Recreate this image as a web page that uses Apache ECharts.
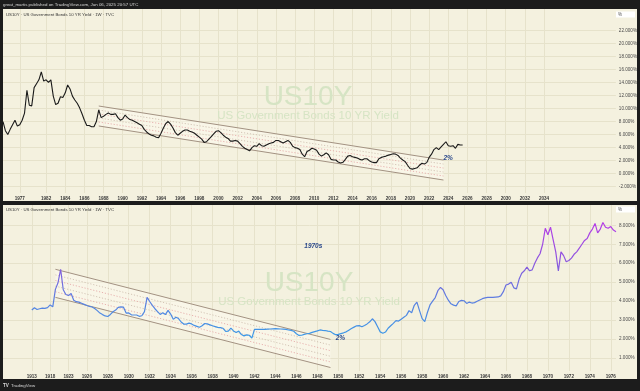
<!DOCTYPE html>
<html><head><meta charset="utf-8">
<script src="https://cdn.jsdelivr.net/npm/echarts@6/dist/echarts.min.js"></script>
<style>html,body{margin:0;padding:0;background:#1c1c1c;} #c{width:640px;height:391px;}</style>
</head><body><div id="c"></div>
<script>
// ---------- DATA ----------
// Top pane: weekly-style samples (one per category slot), US10Y yield %
const topValues = [8.0,6.6,6.0,6.8,7.5,8.2,7.3,7.5,8.2,9.3,
12.8,10.5,10.4,13.2,13.8,14.4,15.6,14.2,14.4,14.0,
14.4,11.9,10.6,10.8,11.8,11.7,12.4,13.6,13.0,11.9,
11.3,10.8,10.1,9.2,8.2,7.4,7.4,7.2,7.2,8.0,
9.8,8.6,8.8,9.1,9.3,9.1,9.1,9.2,8.6,8.2,
8.4,9.0,8.6,8.3,8.2,8.0,7.8,7.6,7.4,6.8,
6.4,6.1,5.9,5.8,5.6,5.5,6.2,7.0,7.7,8.0,
7.6,7.0,6.3,5.9,6.2,6.5,6.7,6.7,6.5,6.4,
6.2,5.9,5.6,5.3,4.8,4.9,5.3,5.7,6.1,6.5,
6.6,6.3,5.9,5.6,5.4,5.0,5.0,5.1,5.0,4.6,
4.2,3.9,3.7,3.5,4.0,4.3,4.2,4.6,4.3,4.2,
4.4,4.6,4.7,4.8,5.1,5.1,4.9,4.7,4.9,5.1,
4.8,4.2,4.0,3.9,3.7,3.0,2.6,3.4,3.6,3.9,
3.8,3.6,3.0,2.7,2.9,3.2,2.9,2.2,2.1,2.1,
1.8,1.65,1.75,2.2,2.7,2.8,2.6,2.5,2.4,2.2,
2.1,2.3,2.3,2.0,1.8,1.7,1.7,2.3,2.5,2.6,
2.7,2.85,2.95,3.05,3.0,2.8,2.4,2.1,1.85,1.3,
0.8,0.7,0.8,0.9,1.3,1.6,1.5,1.7,2.5,3.0,
3.7,4.0,3.7,4.1,4.5,4.9,4.3,4.2,4.3,3.9,
4.5,4.4,4.4];
const topSlotCount = 257;
const topTickLabels = ['1977','1982','1984','1986','1988','1990','1992','1994','1996','1998','2000','2002','2004','2006','2008','2010','2012','2014','2016','2018','2020','2022','2024','2026','2028','2030','2032','2034'];
const topTickSlots = [7,18,26,34,42,50,58,66,74,82,90,98,106,114,122,130,138,146,154,162,170,178,186,194,202,210,218,226];
const topYTicks = [-2,0,2,4,6,8,10,12,14,16,18,20,22];
const topYRange = [-2.96, 25.26];
// Top channel: [startSlot, upperStart, endSlot, upperEnd, width]
const topChannel = [40, 10.38, 184, 2.09, 3.06];

// Bottom pane: long-history samples, first sample at slot 11
const bottomFirstSlot = 11;
const bottomValues = [3.53,3.65,3.56,3.6,3.63,3.62,3.66,3.8,3.7,4.62,
4.97,5.68,4.6,4.35,4.3,4.4,4.05,3.97,3.95,3.89,
3.83,3.77,3.72,3.69,3.61,3.5,3.37,3.29,3.22,3.19,
3.3,3.44,3.53,3.67,3.7,3.68,3.37,3.38,3.28,3.27,
3.27,3.2,3.23,3.45,4.2,3.98,3.78,3.6,3.45,3.3,
3.39,3.29,3.51,3.32,3.04,3.15,3.08,2.9,2.79,2.79,
2.84,2.8,2.72,2.67,2.62,2.7,2.82,2.8,2.75,2.7,
2.66,2.62,2.6,2.57,2.4,2.42,2.58,2.43,2.35,2.42,
2.24,2.17,2.22,2.2,2.05,2.51,2.51,2.51,2.51,2.51,
2.52,2.53,2.54,2.55,2.54,2.53,2.52,2.51,2.48,2.46,
2.41,2.28,2.19,2.2,2.25,2.28,2.3,2.35,2.39,2.43,
2.48,2.46,2.45,2.42,2.4,2.3,2.23,2.25,2.29,2.33,
2.38,2.47,2.56,2.63,2.7,2.71,2.65,2.72,2.8,2.91,
3.07,2.92,2.65,2.38,2.31,2.37,2.57,2.7,2.83,2.97,
2.95,3.05,3.15,3.25,3.5,3.39,3.78,3.95,3.5,3.08,
2.92,3.4,3.8,4.0,4.19,4.55,4.72,4.6,4.3,4.05,
3.86,3.79,3.75,3.98,4.04,4.02,3.88,3.95,3.9,3.92,
3.99,4.06,4.13,4.17,4.2,4.2,4.2,4.21,4.22,4.28,
4.5,4.85,4.9,5.0,4.7,4.65,5.15,5.47,5.6,5.8,
5.6,5.65,6.0,6.28,6.5,7.0,7.84,7.5,7.9,7.25,
6.6,5.6,6.6,6.4,6.08,6.14,6.27,6.47,6.6,6.8,
7.0,7.2,7.3,7.6,7.8,8.1,7.6,7.8,8.15,7.9,
7.84,7.93,7.75,7.66];
const bottomSlotCount = 235;
const bottomTickLabels = ['1913','1918','1923','1926','1928','1930','1932','1934','1936','1938','1940','1942','1944','1946','1948','1950','1952','1954','1956','1958','1960','1962','1964','1966','1968','1970','1972','1974','1976'];
const bottomTickSlots = [11,18,25,32,40,48,56,64,72,80,88,96,104,112,120,128,136,144,152,160,168,176,184,192,200,208,216,224,232];
const bottomYTicks = [1,2,3,4,5,6,7,8];
const bottomYRange = [0.316, 9.07];
const bottomChannel = [20, 5.68, 125, 1.98, 1.48];

// Annotations: [slot, value]
const topNotes = [[184, 2.36]];
const topNoteTexts = ['2%'];
const bottomNotes = [[127, 2.04], [115, 6.89]];
const bottomNoteTexts = ['2%', '1970s'];

// ---------- CHART ----------
const cream = '#f4f1df';
const gridCol = '#e6e2cb';
const frame = '#1c1c1c';
const FONT = 'Liberation Sans, Arial, sans-serif';

function cats(n){ const a=[]; for(let i=0;i<n;i++) a.push(String(i)); return a; }
function tickMap(slots, labels){ const m={}; slots.forEach((s,k)=>m[s]=labels[k]); return m; }
const topMap = tickMap(topTickSlots, topTickLabels);
const botMap = tickMap(bottomTickSlots, bottomTickLabels);
const bottomSeriesData = [];
for (let i=0;i<bottomFirstSlot;i++) bottomSeriesData.push(null);
bottomValues.forEach(v=>bottomSeriesData.push(v));

function xAxisFor(gridIndex, n, map){
  return {
    type:'category', gridIndex, data:cats(n), boundaryGap:false,
    axisLine:{show:false}, axisTick:{show:false},
    axisLabel:{ interval:(i)=>map[i]!==undefined, formatter:(v,i)=>map[i]||'',
      fontSize:4.6, fontWeight:'bold', color:'#3a3a3a', margin:3, fontFamily:FONT },
    splitLine:{ show:true, interval:(i)=>map[i]!==undefined, lineStyle:{color:gridCol, width:1} }
  };
}
function yAxisFor(gridIndex, range, ticks){
  return {
    type:'value', gridIndex, position:'right', min:range[0], max:range[1],
    axisLine:{show:false},
    axisTick:{show:false, customValues:ticks},
    axisLabel:{ customValues:ticks, formatter:(v)=>v.toFixed(3)+'%', fontSize:4.6,
      color:'#4a4a4a', margin:3, align:'left', fontFamily:FONT },
    splitLine:{ show:true, lineStyle:{color:gridCol, width:1} }
  };
}
const levels = [0.2, 0.4, 0.6, 0.8];
const levelColors = ['#c9b7a8', '#e2a0a0', '#c9b7a8', '#e2a0a0'];
function channelRender(params, api){
  const i0=api.value(0), u0=api.value(1), i1=api.value(2), u1=api.value(3), w=api.value(4);
  const a=api.coord([i0,u0]), b=api.coord([i1,u1]), c=api.coord([i1,u1-w]), d=api.coord([i0,u0-w]);
  const ch=[
    {type:'polygon', shape:{points:[a,b,c,d]}, style:{fill:'rgba(255,252,244,0.45)'}},
  ];
  levels.forEach((f,k)=>{
    const p=api.coord([i0,u0-w*f]), q=api.coord([i1,u1-w*f]);
    ch.push({type:'line', shape:{x1:p[0],y1:p[1],x2:q[0],y2:q[1]}, style:{stroke:levelColors[k], lineWidth:0.8, lineDash:[1.2,1.8]}});
  });
  ch.push({type:'line', shape:{x1:a[0],y1:a[1],x2:b[0],y2:b[1]}, style:{stroke:'#a39282', lineWidth:1}});
  ch.push({type:'line', shape:{x1:d[0],y1:d[1],x2:c[0],y2:c[1]}, style:{stroke:'#a39282', lineWidth:1}});
  return {type:'group', children:ch};
}
function noteRender(texts){
  return function(params, api){
    const p=api.coord([api.value(0), api.value(1)]);
    return {type:'text', x:p[0], y:p[1], style:{text:texts[params.dataIndex], fill:'#2c4a8c',
      font:'italic bold 6.5px '+FONT, textAlign:'left', textVerticalAlign:'middle'}};
  };
}

const chart = echarts.init(document.getElementById('c'), null, {renderer:'canvas'});
chart.setOption({
  backgroundColor: frame,
  animation:false,
  grid:[
    {left:3, right:24, top:9, bottom:198},
    {left:3, right:24, top:205, bottom:20}
  ],
  xAxis:[ xAxisFor(0, topSlotCount, topMap), xAxisFor(1, bottomSlotCount, botMap) ],
  yAxis:[ yAxisFor(0, topYRange, topYTicks), yAxisFor(1, bottomYRange, bottomYTicks) ],
  visualMap:{ show:false, type:'continuous', seriesIndex:1, dimension:1, min:2, max:8,
    inRange:{ color:['#3a9be8','#5a80e0','#8a58de','#b33ee6'] } },
  series:[
    { type:'line', xAxisIndex:0, yAxisIndex:0, data:topValues, showSymbol:false, symbol:'none',
      lineStyle:{color:'#1a1a1a', width:1.1}, z:5 },
    { type:'line', xAxisIndex:1, yAxisIndex:1, data:bottomSeriesData, showSymbol:false, symbol:'none',
      lineStyle:{width:1.2}, z:5 },
    { type:'custom', xAxisIndex:0, yAxisIndex:0, data:[topChannel], encode:{x:[0,2], y:[1,3]},
      renderItem:channelRender, z:3, silent:true },
    { type:'custom', xAxisIndex:1, yAxisIndex:1, data:[bottomChannel], encode:{x:[0,2], y:[1,3]},
      renderItem:channelRender, z:3, silent:true },
    { type:'custom', xAxisIndex:0, yAxisIndex:0, data:topNotes, encode:{x:0, y:1},
      renderItem:noteRender(topNoteTexts), z:6, silent:true },
    { type:'custom', xAxisIndex:1, yAxisIndex:1, data:bottomNotes, encode:{x:0, y:1},
      renderItem:noteRender(bottomNoteTexts), z:6, silent:true }
  ],
  graphic:[
    {type:'rect', z:-10, shape:{x:3, y:9, width:634, height:192}, style:{fill:cream}},
    {type:'rect', z:-10, shape:{x:3, y:205, width:634, height:174}, style:{fill:cream}},
    {type:'text', z:1, x:308, y:97, style:{text:'US10Y', font:'28px '+FONT, fill:'#d6e4c4', textAlign:'center', textVerticalAlign:'middle'}},
    {type:'text', z:1, x:308, y:116, style:{text:'US Government Bonds 10 YR Yield', font:'11.5px '+FONT, fill:'#d6e4c4', textAlign:'center', textVerticalAlign:'middle'}},
    {type:'text', z:1, x:309, y:283, style:{text:'US10Y', font:'28px '+FONT, fill:'#d6e4c4', textAlign:'center', textVerticalAlign:'middle'}},
    {type:'text', z:1, x:309, y:302, style:{text:'US Government Bonds 10 YR Yield', font:'11.5px '+FONT, fill:'#d6e4c4', textAlign:'center', textVerticalAlign:'middle'}},
    {type:'text', z:10, x:3, y:4.5, style:{text:'great_martis published on TradingView.com, Jun 06, 2025 20:57 UTC', font:'4.4px '+FONT, fill:'#d8d8d8', textVerticalAlign:'middle'}},
    {type:'text', z:10, x:6, y:15, style:{text:'US10Y · US Government Bonds 10 YR Yield · 1W · TVC', font:'4.3px '+FONT, fill:'#333', textVerticalAlign:'middle'}},
    {type:'text', z:10, x:6, y:209.5, style:{text:'US10Y · US Government Bonds 10 YR Yield · 1W · TVC', font:'4.3px '+FONT, fill:'#333', textVerticalAlign:'middle'}},
    {type:'rect', z:10, shape:{x:616, y:11.5, width:19, height:6}, style:{fill:'#ffffff'}},
    {type:'text', z:11, x:618, y:14.5, style:{text:'%', font:'4.5px '+FONT, fill:'#555', textVerticalAlign:'middle'}},
    {type:'rect', z:10, shape:{x:616, y:206.5, width:19, height:6}, style:{fill:'#ffffff'}},
    {type:'text', z:11, x:618, y:209.5, style:{text:'%', font:'4.5px '+FONT, fill:'#555', textVerticalAlign:'middle'}},
    {type:'text', z:10, x:3, y:385.5, style:{text:'TV', font:'bold 4.6px '+FONT, fill:'#d8d8d8', textVerticalAlign:'middle'}},
    {type:'text', z:10, x:11, y:385.5, style:{text:'TradingView', font:'4.4px '+FONT, fill:'#d8d8d8', textVerticalAlign:'middle'}}
  ]
});
</script>
</body></html>
